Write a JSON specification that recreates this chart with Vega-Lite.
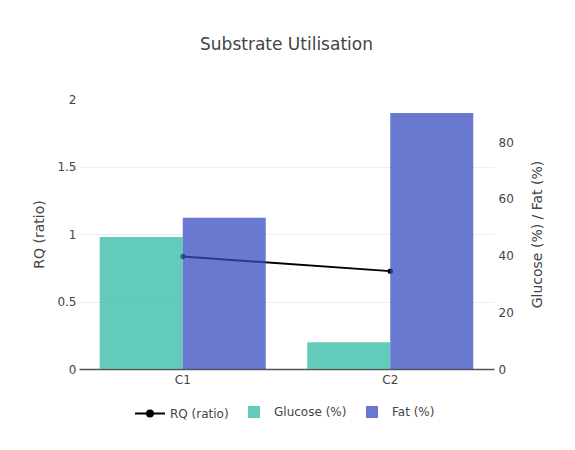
{
  "$schema": "https://vega.github.io/schema/vega-lite/v6.json",
  "autosize": {"type": "none"},
  "width": 415,
  "height": 270,
  "padding": {"left": 79, "top": 99, "right": 81, "bottom": 81},
  "background": "white",
  "title": {"text": "Substrate Utilisation", "fontSize": 17, "font": "DejaVu Sans", "fontWeight": "normal", "color": "#444", "anchor": "middle", "offset": 39},
  "datasets": {
    "bars": [
      {"cond": "C1", "series": "Glucose (%)", "value": 46.5},
      {"cond": "C1", "series": "Fat (%)", "value": 53.3},
      {"cond": "C2", "series": "Glucose (%)", "value": 9.4},
      {"cond": "C2", "series": "Fat (%)", "value": 90.3}
    ],
    "rq": [
      {"cond": "C1", "rq": 0.833},
      {"cond": "C2", "rq": 0.725}
    ]
  },
  "encoding": {
    "x": {
      "field": "cond", "type": "nominal",
      "scale": {"paddingInner": 0.2, "paddingOuter": 0.1},
      "axis": {"title": null, "labelAngle": 0, "ticks": false, "grid": false, "domainColor": "#555", "domainWidth": 1.5, "labelPadding": 5}
    }
  },
  "layer": [
    {
      "data": {"name": "rq"},
      "mark": {"type": "line", "color": "black", "strokeWidth": 2, "point": {"filled": true, "fill": "black", "size": 30}},
      "encoding": {
        "y": {
          "field": "rq", "type": "quantitative",
          "scale": {"domain": [0, 2], "nice": false},
          "axis": {
            "title": "RQ (ratio)", "orient": "left", "values": [0, 0.5, 1, 1.5, 2], "format": "~g",
            "domain": false, "ticks": false, "labelPadding": 3, "titlePadding": 10,
            "gridColor": "#eee", "gridOpacity": {"condition": {"test": "datum.value === 2 || datum.value === 0", "value": 0}, "value": 1}
          }
        }
      }
    },
    {
      "data": {"name": "bars"},
      "mark": {"type": "bar", "opacity": 0.75},
      "encoding": {
        "xOffset": {"field": "series", "type": "nominal", "scale": {"domain": ["Glucose (%)", "Fat (%)"], "paddingInner": 0, "paddingOuter": 0}},
        "y": {
          "field": "value", "type": "quantitative",
          "scale": {"domain": [0, 95.2], "nice": false},
          "axis": {
            "title": "Glucose (%) / Fat (%)", "orient": "right", "values": [0, 20, 40, 60, 80],
            "domain": false, "ticks": false, "labelPadding": 4, "titlePadding": 31, "titleAngle": 270,
            "gridColor": "#eee", "gridOpacity": {"condition": {"test": "datum.value === 0", "value": 0}, "value": 1}
          }
        },
        "color": {
          "field": "series", "type": "nominal",
          "scale": {"domain": ["RQ (ratio)", "Glucose (%)", "Fat (%)"], "range": ["#000000", "#2fbaa2", "#374cc0"]},
          "legend": {
            "title": null, "orient": "none", "direction": "horizontal", "columns": 3,
            "legendX": 55, "legendY": 297, "symbolSize": 900, "labelOffset": 4, "columnPadding": 9,
            "encoding": {
              "symbols": {
                "shape": {"condition": {"test": "datum.value === 'RQ (ratio)'", "value": "M-1,0H1M-0.2,0A0.2,0.2 0 1,1 0.2,0A0.2,0.2 0 1,1 -0.2,0Z"}, "value": "M-0.4,-0.4H0.4V0.4H-0.4Z"},
                "stroke": {"condition": {"test": "datum.value === 'RQ (ratio)'", "value": "black"}, "value": "transparent"},
                "strokeWidth": {"value": 2},
                "opacity": {"condition": {"test": "datum.value === 'RQ (ratio)'", "value": 1}, "value": 0.75}
              }
            }
          }
        }
      }
    }
  ],
  "resolve": {"scale": {"y": "independent"}},
  "config": {
    "font": "DejaVu Sans",
    "view": {"stroke": null},
    "axis": {"labelFont": "DejaVu Sans", "titleFont": "DejaVu Sans", "labelFontSize": 12, "titleFontSize": 14, "labelColor": "#444", "titleColor": "#444", "titleFontWeight": "normal"},
    "legend": {"labelFont": "DejaVu Sans", "labelFontSize": 12, "labelColor": "#444"}
  }
}
